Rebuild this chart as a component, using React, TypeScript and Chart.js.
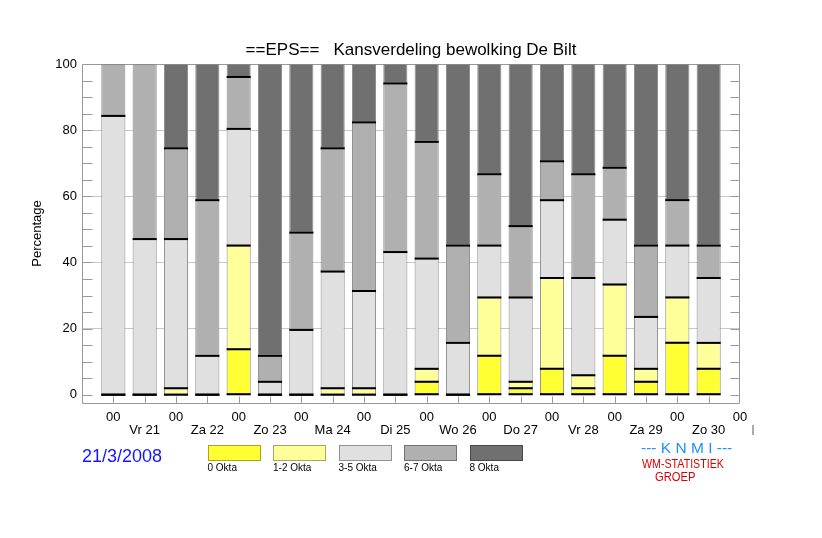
import { useEffect, useRef } from "react"
import { Chart, registerables } from "chart.js"

Chart.register(...registerables)

const FONT = '"Liberation Sans", Arial, Helvetica, sans-serif'

// x axis: one bar every 12 hours, "00" on the upper row, day on the lower row
const dayLabels = ["Vr 21", "Za 22", "Zo 23", "Ma 24", "Di 25", "Wo 26", "Do 27", "Vr 28", "Za 29", "Zo 30"]
const hourLabel = "00"
const yTicks = [0, 20, 40, 60, 80, 100]

const oktaLabels = ["0 Okta", "1-2 Okta", "3-5 Okta", "6-7 Okta", "8 Okta"]
const oktaColors = ["#ffff33", "#ffff99", "#e0e0e0", "#b0b0b0", "#707070"]

// percentages per class (51 members, so steps of ~1.96)
const okta0 = [0, 0, 0, 0, 13.73, 0, 0, 0, 0, 0, 3.92, 0, 11.76, 1.96, 7.84, 1.96, 11.76, 3.92, 15.69, 7.84]
const okta12 = [0, 0, 1.96, 0, 31.37, 0, 0, 1.96, 1.96, 0, 3.92, 0, 17.65, 1.96, 27.45, 3.92, 21.57, 3.92, 13.73, 7.84]
const okta35 = [84.31, 47.06, 45.1, 11.76, 35.29, 3.92, 19.61, 35.29, 29.41, 43.14, 33.33, 15.69, 15.69, 25.49, 23.53, 29.41, 19.61, 15.69, 15.69, 19.61]
const okta67 = [15.69, 52.94, 27.45, 47.06, 15.69, 7.84, 29.41, 37.25, 50.98, 50.98, 35.29, 29.41, 21.57, 21.57, 11.76, 31.37, 15.69, 21.57, 13.73, 9.8]
const okta8 = [0, 0, 25.49, 41.18, 3.92, 88.24, 50.98, 25.49, 17.65, 5.88, 23.53, 54.9, 33.33, 49.02, 29.41, 33.33, 31.37, 54.9, 41.18, 54.9]

const series = [okta0, okta12, okta35, okta67, okta8]

// frame, inward ticks and the black class boundaries
const epsPlugin = {
  id: "eps",
  beforeDatasetsDraw(chart: any) {
    const { ctx, chartArea: a, scales } = chart
    const l = Math.round(a.left) + 0.5
    const r = Math.round(a.right) - 0.5
    const t = Math.round(a.top) + 0.5
    const b = Math.round(a.bottom) + 0.5
    ctx.save()
    ctx.strokeStyle = "#999"
    ctx.lineWidth = 1
    ctx.beginPath()
    ctx.rect(l, t, r - l, b - t)
    for (let v = 0; v <= 100; v += 5) {
      const py = Math.round(scales.y.getPixelForValue(v)) + 0.5
      ctx.moveTo(l, py)
      ctx.lineTo(l + 10, py)
      ctx.moveTo(r - 9, py)
      ctx.lineTo(r, py)
    }
    for (let i = 0; i < okta0.length; i++) {
      const px = Math.round(scales.x.getPixelForValue(i)) + 0.5
      ctx.moveTo(px, b)
      ctx.lineTo(px, b - 7)
    }
    ctx.stroke()
    ctx.restore()
  },
  afterDatasetsDraw(chart: any) {
    const { ctx, chartArea: a } = chart
    ctx.save()
    ctx.strokeStyle = "#000"
    ctx.lineWidth = 2
    chart.data.datasets.forEach((_: any, d: number) => {
      const meta = chart.getDatasetMeta(d)
      meta.data.forEach((el: any) => {
        const x0 = el.x - el.width / 2
        const x1 = el.x + el.width / 2
        ctx.beginPath()
        if (el.y > a.top + 1) {
          ctx.moveTo(x0, el.y)
          ctx.lineTo(x1, el.y)
        }
        if (d === 0) {
          ctx.moveTo(x0, el.base)
          ctx.lineTo(x1, el.base)
        }
        ctx.stroke()
      })
    })
    ctx.restore()
  },
}

export default function App() {
  const canvasRef = useRef<HTMLCanvasElement>(null)
  const chartRef = useRef<Chart | null>(null)

  useEffect(() => {
    document.body.style.margin = "0"
    if (!canvasRef.current) return
    if (chartRef.current) chartRef.current.destroy()

    chartRef.current = new Chart(canvasRef.current, {
      type: "bar",
      data: {
        datasets: series.map((values, s) => ({
          label: oktaLabels[s],
          data: values.map((v, i) => ({ x: i, y: v })),
          backgroundColor: oktaColors[s],
          borderColor: "#8a8a8a",
          borderWidth: 1,
          borderSkipped: false,
          barPercentage: 0.77,
          categoryPercentage: 1,
        })),
      },
      options: {
        responsive: false,
        animation: false,
        layout: { padding: { left: 0, right: 82, top: 0, bottom: 0 } },
        font: { family: FONT },
        scales: {
          x: {
            type: "linear",
            stacked: true,
            offset: false,
            min: -1,
            max: 20,
            afterBuildTicks: (scale: any) => {
              const ticks = []
              for (let v = -1; v <= 20; v++) ticks.push({ value: v })
              scale.ticks = ticks
            },
            afterFit: (scale: any) => {
              scale.height = 135
            },
            grid: { display: false, drawTicks: false, offset: false },
            border: { display: false },
            ticks: {
              autoSkip: false,
              maxRotation: 0,
              minRotation: 0,
              padding: 8,
              color: "#000",
              font: { family: FONT, size: 13, lineHeight: "12.7px" },
              callback: (value: any) => {
                const v = Number(value)
                if (v < 0) return ""
                if (v % 2 === 0) return [hourLabel]
                return ["", dayLabels[(v - 1) / 2]]
              },
            },
          },
          y: {
            stacked: true,
            min: -2.5,
            max: 100,
            afterBuildTicks: (scale: any) => {
              scale.ticks = yTicks.map((v) => ({ value: v }))
            },
            afterFit: (scale: any) => {
              scale.width = 82
            },
            grid: {
              drawTicks: false,
              color: (c: any) => (c.tick && c.tick.value > 0 && c.tick.value < 100 ? "#c8c8c8" : "rgba(0,0,0,0)"),
            },
            border: { display: false },
            ticks: {
              padding: 5,
              color: "#000",
              font: { family: FONT, size: 13 },
            },
            title: {
              display: true,
              text: "Percentage",
              color: "#000",
              font: { family: FONT, size: 13 },
              padding: { top: 30, bottom: 0 },
            },
          },
        },
        plugins: {
          legend: { display: false },
          tooltip: { enabled: false },
          title: {
            display: true,
            fullSize: false,
            text: "==EPS==   Kansverdeling bewolking De Bilt",
            color: "#000",
            font: { family: FONT, size: 17, weight: "normal", lineHeight: 1.2 },
            padding: { top: 40.6, bottom: 3 },
          },
        },
      },
      plugins: [epsPlugin],
    } as any)

    return () => {
      if (chartRef.current) {
        chartRef.current.destroy()
        chartRef.current = null
      }
    }
  }, [])

  return (
    <div style={{ position: "relative", width: 822, height: 538, background: "#fff", fontFamily: FONT }}>
      <canvas ref={canvasRef} width={822} height={538} style={{ position: "absolute", left: 0, top: 0 }} />
      <div style={{ position: "absolute", left: 82, top: 446.5, fontSize: 18, lineHeight: "18px", color: "#1414ff", whiteSpace: "nowrap" }}>
        21/3/2008
      </div>
      {oktaLabels.map((label, i) => (
        <div key={label} style={{ position: "absolute", left: 207.5 + i * 65.5, top: 445 }}>
          <div
            style={{
              width: 53,
              height: 16,
              boxSizing: "border-box",
              border: "1px solid rgba(0,0,0,0.35)",
              background: oktaColors[i],
            }}
          />
          <div style={{ fontSize: 10, lineHeight: "10px", marginTop: 1.7, whiteSpace: "nowrap", color: "#000" }}>{label}</div>
        </div>
      ))}
      <div style={{ position: "absolute", left: 641, top: 440, fontSize: 15.5, lineHeight: "16px", color: "#1e90ff", whiteSpace: "pre" }}>
        {"--- K N M I ---"}
      </div>
      <div
        style={{
          position: "absolute",
          left: 641.5,
          top: 457.3,
          fontSize: 13,
          lineHeight: "13px",
          color: "#e00000",
          whiteSpace: "nowrap",
          transform: "scaleX(0.82)",
          transformOrigin: "left top",
        }}
      >
        WM-STATISTIEK
      </div>
      <div
        style={{
          position: "absolute",
          left: 655,
          top: 469.7,
          fontSize: 13,
          lineHeight: "13px",
          color: "#e00000",
          whiteSpace: "nowrap",
          transform: "scaleX(0.86)",
          transformOrigin: "left top",
        }}
      >
        GROEP
      </div>
      <div style={{ position: "absolute", left: 752, top: 425, width: 2, height: 10, background: "#aaa" }} />
    </div>
  )
}
